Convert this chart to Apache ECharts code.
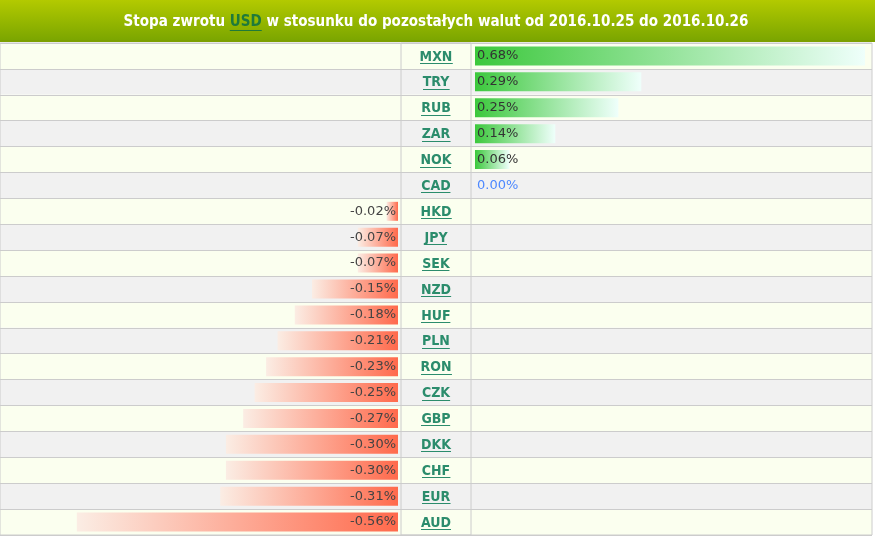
<!DOCTYPE html>
<html><head><meta charset="utf-8">
<script src="https://cdn.jsdelivr.net/npm/echarts@6/dist/echarts.min.js"></script>
<style>html,body{margin:0;padding:0;background:#fff}#c{width:875px;height:537px}</style>
</head><body><div id="c"></div>
<script>
// ---- data ----
const currencies = ['MXN','TRY','RUB','ZAR','NOK','CAD','HKD','JPY','SEK','NZD','HUF','PLN','RON','CZK','GBP','DKK','CHF','EUR','AUD'];
const returns = [0.68,0.29,0.25,0.14,0.06,0.00,-0.02,-0.07,-0.07,-0.15,-0.18,-0.21,-0.23,-0.25,-0.27,-0.30,-0.30,-0.31,-0.56];
const titlePre = 'Stopa zwrotu ';
const titleBase = 'USD';
const titlePost = ' w stosunku do pozostałych walut od 2016.10.25 do 2016.10.26';

// ---- styling / layout ----
const W = 875;
const axisSpan = 0.694;       // % per half-width
const gridTop = 43, rowsH = 492;
const labelFont = 'DejaVu Sans';
const codeFont = 'bold 14px "DejaVu Sans Condensed", "DejaVu Sans"';
const codeColor = '#2b8c6c';

const ctx = document.createElement('canvas').getContext('2d');
function tw(t, f){ ctx.font = f; return ctx.measureText(t).width; }

// fit title font to target width
const titleFam = '"DejaVu Sans Condensed", "DejaVu Sans"';
const fullTitle = titlePre + titleBase + titlePost;
let tSize = 15 * 625 / tw(fullTitle, 'bold 15px ' + titleFam);
tSize = Math.min(17, Math.max(13, tSize));
const titleFont = 'bold ' + tSize.toFixed(2) + 'px ' + titleFam;

const negData = returns.map(v => v < 0 ? v : '-');
const posData = returns.map(v => v >= 0 ? (v === 0 ? {value:v, label:{color:'#4d88ff'}} : v) : '-');
const fmt = p => Number(p.value).toFixed(2) + '%';

// title pieces
const w1 = tw(titlePre, titleFont), w2 = tw(titleBase, titleFont), w3 = tw(titlePost, titleFont);
const tx0 = 436 - (w1 + w2 + w3) / 2;
const ty = 22;

const chart = echarts.init(document.getElementById('c'), null, {renderer:'canvas'});
const catAxis = (gi, extra) => Object.assign({
  type:'category', data: currencies, inverse:true, gridIndex: gi,
  axisLine:{show:false}, axisTick:{show:false}, axisLabel:{show:false},
  splitLine:{show:false}
}, extra || {});

chart.setOption({
  animation:false,
  backgroundColor:'#ffffff',
  grid:[
    {left:0, top:gridTop, width:872, height:rowsH, show:true, borderColor:'#cccccc', borderWidth:1, backgroundColor:'transparent', z:1},
    {left:0, top:gridTop, width:398, height:rowsH},
    {left:475, top:gridTop, width:398, height:rowsH},
    {left:401, top:gridTop, width:70, height:rowsH, show:true, borderColor:'#cccccc', borderWidth:1, backgroundColor:'transparent', z:1}
  ],
  xAxis:[
    {type:'value', gridIndex:0, min:0, max:1, show:false},
    {type:'value', gridIndex:1, min:-axisSpan, max:0, show:false},
    {type:'value', gridIndex:2, min:0, max:axisSpan, show:false},
    {type:'value', gridIndex:3, min:0, max:1, show:false}
  ],
  yAxis:[
    catAxis(0, {z:-1, splitLine:{show:true, lineStyle:{color:'#cccccc', width:1}},
      splitArea:{show:true, areaStyle:{color:['#fbffef','#f1f1f1']}}}),
    catAxis(1),
    catAxis(2),
    catAxis(3)
  ],
  graphic:[
    {type:'rect', z:10, shape:{x:0,y:0,width:W,height:41},
      style:{fill:new echarts.graphic.LinearGradient(0,0,0,1,[{offset:0,color:'#b3ca00'},{offset:1,color:'#7aa500'}])}},
    {type:'rect', z:10, shape:{x:0,y:40,width:W,height:2}, style:{fill:'#7c9f00'}},
    {type:'text', z:11, x:tx0, y:ty, style:{text:titlePre, font:titleFont, fill:'#ffffff', align:'left', verticalAlign:'middle'}},
    {type:'text', z:11, x:tx0 + w1, y:ty, style:{text:titleBase, font:titleFont, fill:'#1f7a3a', align:'left', verticalAlign:'middle'}},
    {type:'rect', z:11, shape:{x:tx0 + w1, y:ty + 8, width:w2, height:1}, style:{fill:'#1f7a3a'}},
    {type:'text', z:11, x:tx0 + w1 + w2, y:ty, style:{text:titlePost, font:titleFont, fill:'#ffffff', align:'left', verticalAlign:'middle'}}
  ],
  series:[
    {type:'bar', xAxisIndex:1, yAxisIndex:1, data:negData, barWidth:19,
      itemStyle:{color:new echarts.graphic.LinearGradient(0,0,1,0,[{offset:0,color:'#fbede4'},{offset:1,color:'#ff6a4c'}])},
      label:{show:true, position:'insideRight', distance:2, formatter:fmt, color:'#444444', fontFamily:labelFont, fontSize:13}},
    {type:'bar', xAxisIndex:2, yAxisIndex:2, data:posData, barWidth:19,
      itemStyle:{color:new echarts.graphic.LinearGradient(0,0,1,0,[{offset:0,color:'#3cc83c'},{offset:1,color:'#effffb'}])},
      label:{show:true, position:'insideLeft', distance:2, formatter:fmt, color:'#333333', fontFamily:labelFont, fontSize:13}},
    {type:'custom', xAxisIndex:3, yAxisIndex:3, data: currencies.map(c => [0.5, c]),
      encode:{x:0, y:1},
      renderItem:(params, api) => {
        const p = api.coord([api.value(0), api.value(1)]);
        const code = currencies[params.dataIndex];
        const w = tw(code, codeFont);
        return {type:'group', children:[
          {type:'text', x:p[0], y:p[1] + 1, style:{text:code, font:codeFont, fill:codeColor, align:'center', verticalAlign:'middle'}},
          {type:'rect', shape:{x:Math.round(p[0] - w/2), y:Math.round(p[1] + 7), width:w, height:1}, style:{fill:codeColor}}
        ]};
      }}
  ]
});
</script></body></html>
